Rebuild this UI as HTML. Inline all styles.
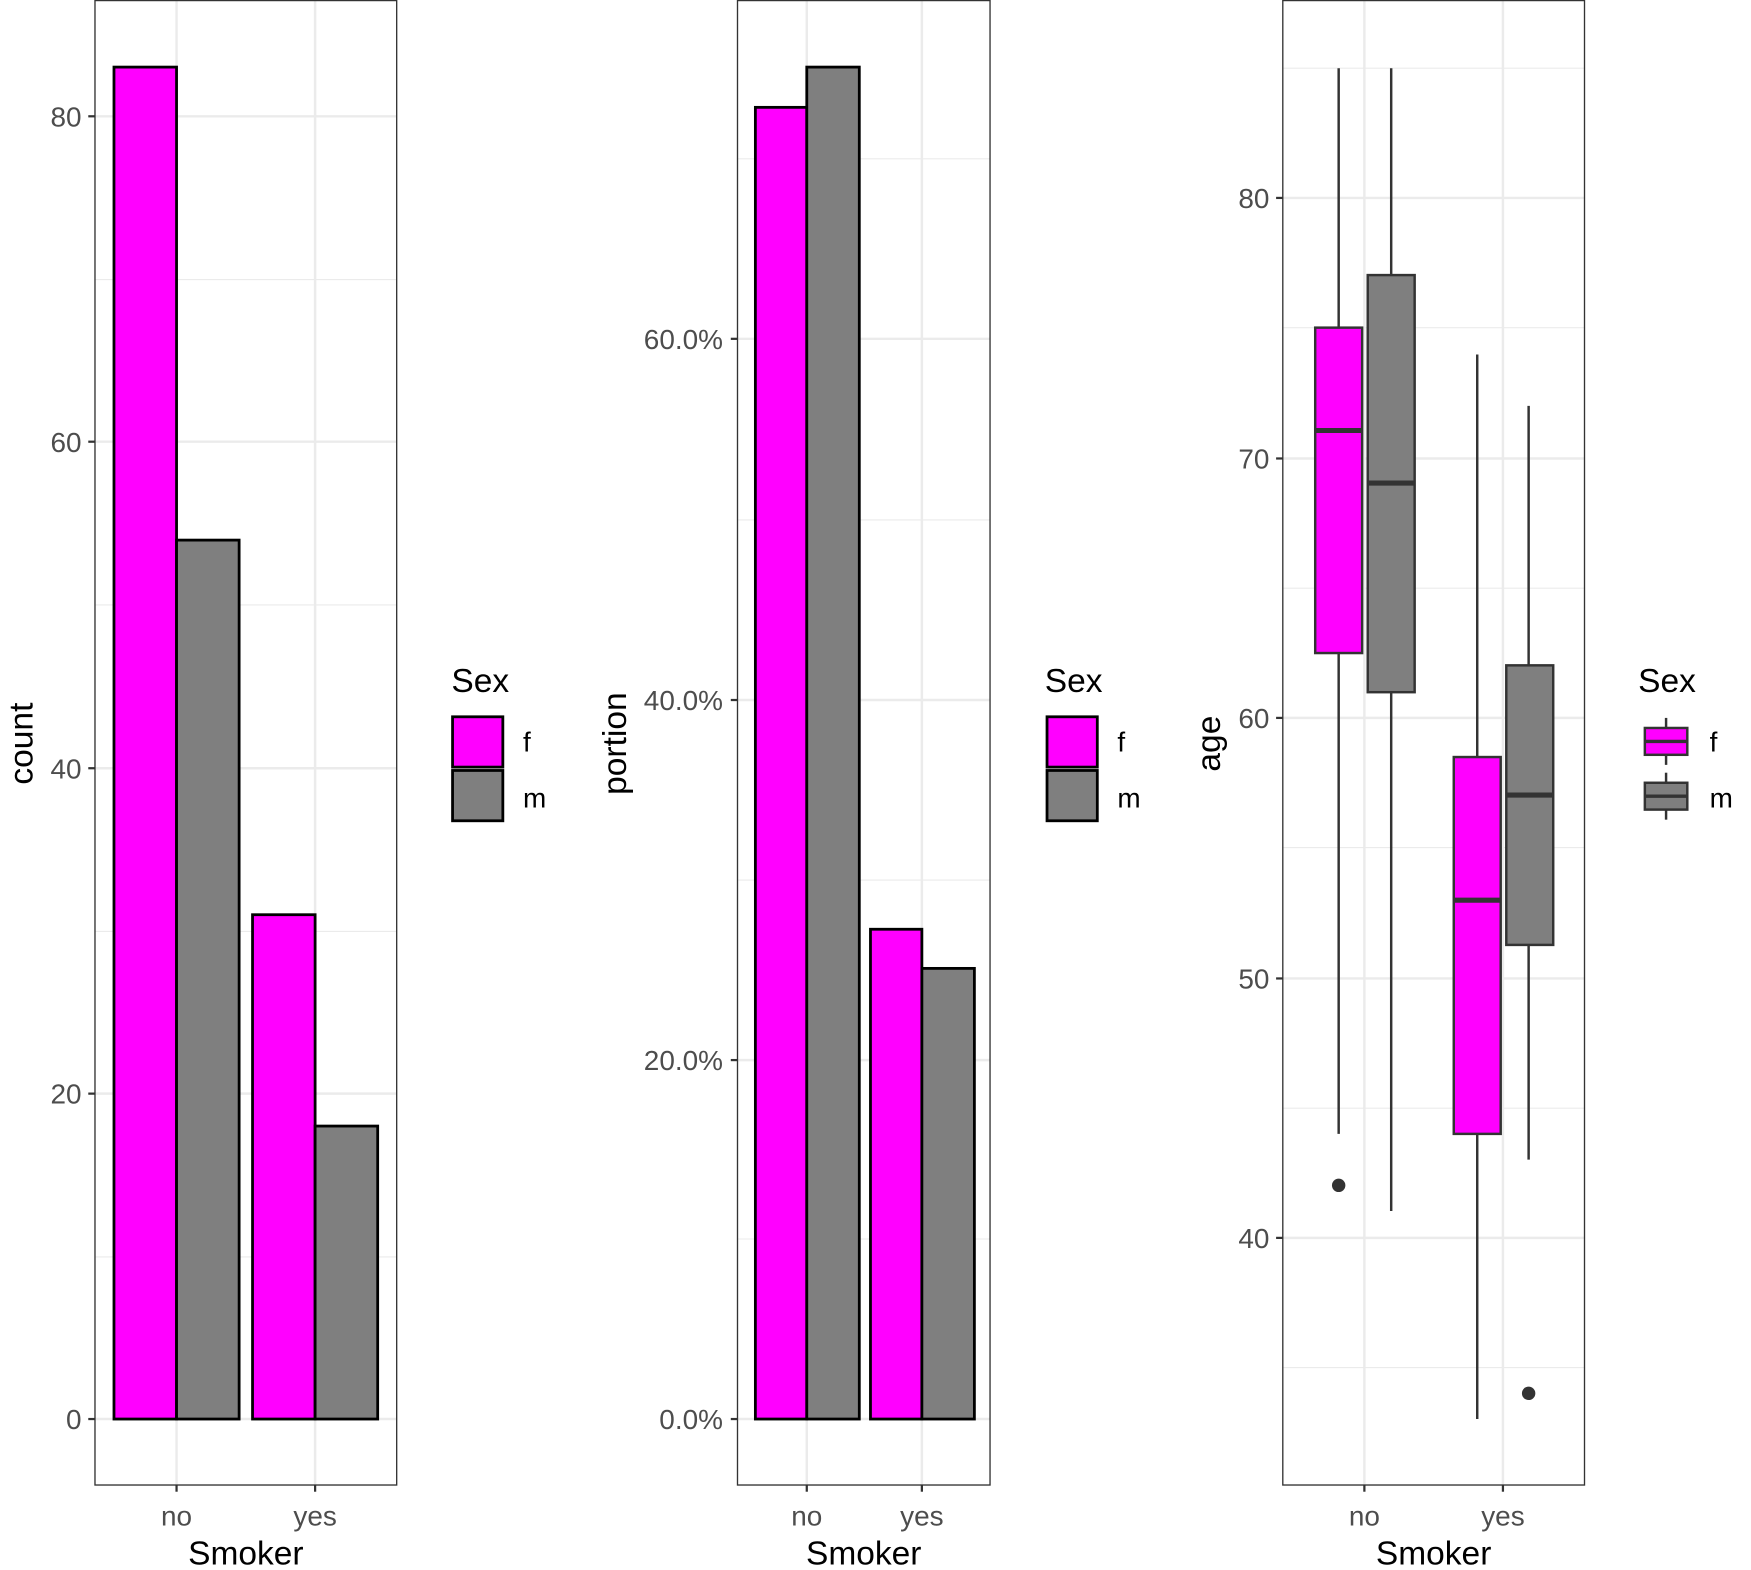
<!DOCTYPE html>
<html><head><meta charset="utf-8"><style>html,body{margin:0;padding:0;background:#fff}svg{display:block}text{font-family:"Liberation Sans",sans-serif}</style></head><body>
<svg width="1751" height="1570" viewBox="0 0 1567 1404" preserveAspectRatio="none" xmlns="http://www.w3.org/2000/svg">
<rect width="1567" height="1404" fill="#fff"/>
<!-- Panel 1 -->
<g stroke="#ebebeb">
<g stroke-width="1"><line x1="85" x2="355" y1="1124" y2="1124"/><line x1="85" x2="355" y1="833" y2="833"/><line x1="85" x2="355" y1="541" y2="541"/><line x1="85" x2="355" y1="250" y2="250"/></g>
<g stroke-width="2.2"><line x1="85" x2="355" y1="1269" y2="1269"/><line x1="85" x2="355" y1="978" y2="978"/><line x1="85" x2="355" y1="687" y2="687"/><line x1="85" x2="355" y1="395" y2="395"/><line x1="85" x2="355" y1="104" y2="104"/><line x1="158" x2="158" y1="0" y2="1328"/><line x1="282" x2="282" y1="0" y2="1328"/></g>
</g>
<g stroke="#000" stroke-width="2.5">
<rect x="102" y="60" width="56" height="1209" fill="#ff00ff"/>
<rect x="158" y="483" width="56" height="786" fill="#7f7f7f"/>
<rect x="226" y="818" width="56" height="451" fill="#ff00ff"/>
<rect x="282" y="1007" width="56" height="262" fill="#7f7f7f"/>
</g>
<rect x="85" y="0.5" width="270" height="1327.5" fill="none" stroke="#333" stroke-width="1.2"/>
<g stroke="#333" stroke-width="2"><line x1="79" x2="85" y1="1269" y2="1269"/><line x1="79" x2="85" y1="978" y2="978"/><line x1="79" x2="85" y1="687" y2="687"/><line x1="79" x2="85" y1="395" y2="395"/><line x1="79" x2="85" y1="104" y2="104"/><line x1="158" x2="158" y1="1328" y2="1334"/><line x1="282" x2="282" y1="1328" y2="1334"/></g>
<g font-size="25" fill="#4d4d4d" text-anchor="end"><text x="73" y="1278">0</text><text x="73" y="987">20</text><text x="73" y="696">40</text><text x="73" y="404">60</text><text x="73" y="113">80</text></g>
<g font-size="25" fill="#4d4d4d" text-anchor="middle"><text x="158" y="1364">no</text><text x="282" y="1364">yes</text></g>
<text x="220" y="1399" font-size="30" text-anchor="middle">Smoker</text>
<text transform="translate(29,665) rotate(-90)" font-size="30" text-anchor="middle">count</text>
<text x="404" y="619" font-size="30">Sex</text>
<rect x="405" y="641" width="45" height="45" fill="#ff00ff" stroke="#000" stroke-width="2.5"/>
<rect x="405" y="689" width="45" height="45" fill="#7f7f7f" stroke="#000" stroke-width="2.5"/>
<text x="468" y="672" font-size="25">f</text><text x="468" y="722" font-size="25">m</text>
<!-- Panel 2 -->
<g stroke="#ebebeb">
<g stroke-width="1"><line x1="660" x2="886" y1="1108" y2="1108"/><line x1="660" x2="886" y1="787" y2="787"/><line x1="660" x2="886" y1="465" y2="465"/><line x1="660" x2="886" y1="142" y2="142"/></g>
<g stroke-width="2.2"><line x1="660" x2="886" y1="1269" y2="1269"/><line x1="660" x2="886" y1="948" y2="948"/><line x1="660" x2="886" y1="626" y2="626"/><line x1="660" x2="886" y1="303" y2="303"/><line x1="722" x2="722" y1="0" y2="1328"/><line x1="825" x2="825" y1="0" y2="1328"/></g>
</g>
<g stroke="#000" stroke-width="2.5">
<rect x="676" y="96" width="46" height="1173" fill="#ff00ff"/>
<rect x="722" y="60" width="47" height="1209" fill="#7f7f7f"/>
<rect x="779" y="831" width="46" height="438" fill="#ff00ff"/>
<rect x="825" y="866" width="47" height="403" fill="#7f7f7f"/>
</g>
<rect x="660" y="0.5" width="226" height="1327.5" fill="none" stroke="#333" stroke-width="1.2"/>
<g stroke="#333" stroke-width="2"><line x1="654" x2="660" y1="1269" y2="1269"/><line x1="654" x2="660" y1="948" y2="948"/><line x1="654" x2="660" y1="626" y2="626"/><line x1="654" x2="660" y1="303" y2="303"/><line x1="722" x2="722" y1="1328" y2="1334"/><line x1="825" x2="825" y1="1328" y2="1334"/></g>
<g font-size="25" fill="#4d4d4d" text-anchor="end"><text x="647" y="1278">0.0%</text><text x="647" y="957">20.0%</text><text x="647" y="635">40.0%</text><text x="647" y="312">60.0%</text></g>
<g font-size="25" fill="#4d4d4d" text-anchor="middle"><text x="722" y="1364">no</text><text x="825" y="1364">yes</text></g>
<text x="773" y="1399" font-size="30" text-anchor="middle">Smoker</text>
<text transform="translate(560,665) rotate(-90)" font-size="30" text-anchor="middle">portion</text>
<text x="935" y="619" font-size="30">Sex</text>
<rect x="937" y="641" width="45" height="45" fill="#ff00ff" stroke="#000" stroke-width="2.5"/>
<rect x="937" y="689" width="45" height="45" fill="#7f7f7f" stroke="#000" stroke-width="2.5"/>
<text x="1000" y="672" font-size="25">f</text><text x="1000" y="722" font-size="25">m</text>
<!-- Panel 3 -->
<g stroke="#ebebeb">
<g stroke-width="1"><line x1="1148" x2="1418" y1="61" y2="61"/><line x1="1148" x2="1418" y1="293" y2="293"/><line x1="1148" x2="1418" y1="526" y2="526"/><line x1="1148" x2="1418" y1="758" y2="758"/><line x1="1148" x2="1418" y1="991" y2="991"/><line x1="1148" x2="1418" y1="1223" y2="1223"/></g>
<g stroke-width="2.2"><line x1="1148" x2="1418" y1="177" y2="177"/><line x1="1148" x2="1418" y1="410" y2="410"/><line x1="1148" x2="1418" y1="642" y2="642"/><line x1="1148" x2="1418" y1="875" y2="875"/><line x1="1148" x2="1418" y1="1107" y2="1107"/><line x1="1221" x2="1221" y1="0" y2="1328"/><line x1="1345" x2="1345" y1="0" y2="1328"/></g>
</g>
<g stroke="#333" stroke-width="2.2">
<line x1="1198" x2="1198" y1="61" y2="1014"/><line x1="1245" x2="1245" y1="61" y2="1083"/><line x1="1322" x2="1322" y1="317" y2="1269"/><line x1="1368" x2="1368" y1="363" y2="1037"/>
<rect x="1177" y="293" width="42" height="291" fill="#ff00ff"/>
<rect x="1224" y="246" width="42" height="373" fill="#7f7f7f"/>
<rect x="1301" y="677" width="42" height="337" fill="#ff00ff"/>
<rect x="1348" y="595" width="42" height="250" fill="#7f7f7f"/>
</g>
<g stroke="#333" stroke-width="4.5"><line x1="1177" x2="1219" y1="385" y2="385"/><line x1="1224" x2="1266" y1="432" y2="432"/><line x1="1301" x2="1343" y1="805" y2="805"/><line x1="1348" x2="1390" y1="711" y2="711"/></g>
<circle cx="1198" cy="1060" r="6" fill="#333"/><circle cx="1368" cy="1246" r="6" fill="#333"/>
<rect x="1148" y="0.5" width="270" height="1327.5" fill="none" stroke="#333" stroke-width="1.2"/>
<g stroke="#333" stroke-width="2"><line x1="1142" x2="1148" y1="177" y2="177"/><line x1="1142" x2="1148" y1="410" y2="410"/><line x1="1142" x2="1148" y1="642" y2="642"/><line x1="1142" x2="1148" y1="875" y2="875"/><line x1="1142" x2="1148" y1="1107" y2="1107"/><line x1="1221" x2="1221" y1="1328" y2="1334"/><line x1="1345" x2="1345" y1="1328" y2="1334"/></g>
<g font-size="25" fill="#4d4d4d" text-anchor="end"><text x="1136" y="186">80</text><text x="1136" y="419">70</text><text x="1136" y="651">60</text><text x="1136" y="884">50</text><text x="1136" y="1116">40</text></g>
<g font-size="25" fill="#4d4d4d" text-anchor="middle"><text x="1221" y="1364">no</text><text x="1345" y="1364">yes</text></g>
<text x="1283" y="1399" font-size="30" text-anchor="middle">Smoker</text>
<text transform="translate(1092,665) rotate(-90)" font-size="30" text-anchor="middle">age</text>
<text x="1466" y="619" font-size="30">Sex</text>
<g stroke="#333" stroke-width="2.2">
<line x1="1491" x2="1491" y1="642" y2="684"/><rect x="1472" y="651" width="38" height="24" fill="#ff00ff"/><line x1="1472" x2="1510" y1="663" y2="663" stroke-width="3"/>
<line x1="1491" x2="1491" y1="691" y2="733"/><rect x="1472" y="700" width="38" height="24" fill="#7f7f7f"/><line x1="1472" x2="1510" y1="712" y2="712" stroke-width="3"/>
</g>
<text x="1530" y="672" font-size="25">f</text><text x="1530" y="722" font-size="25">m</text>
</svg>
</body></html>
